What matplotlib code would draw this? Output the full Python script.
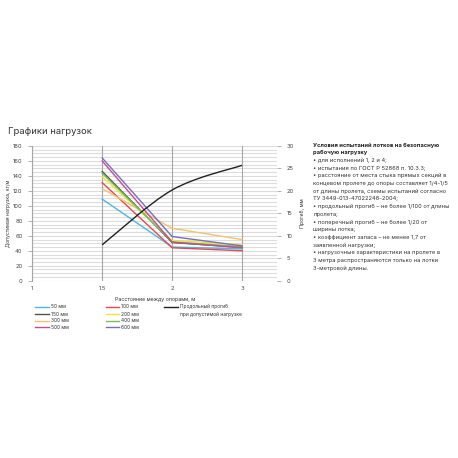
import matplotlib
matplotlib.use("Agg")
import matplotlib.pyplot as plt
from matplotlib.path import Path
from matplotlib.patches import PathPatch
from matplotlib.lines import Line2D
import numpy as np

plt.rcParams['font.family'] = ['Inter', 'DejaVu Sans']

# ---- data ----
spans = ["1", "1.5", "2", "3"]
x_idx = [1, 2, 3]          # category positions of 1.5, 2, 3
series_names = ["50 мм", "100 мм", "150 мм", "200 мм", "300 мм", "400 мм", "500 мм", "600 мм"]
load_50 = [109, 45, 42.5]
load_100 = [131, 44, 40]
load_150 = [146, 51, 44.5]
load_200 = [139, 54, 48]
load_300 = [123, 70, 55]
load_400 = [143.5, 52, 45.5]
load_500 = [160, 51.5, 44]
load_600 = [164, 59, 46.5]
deflection = [8, 20.2, 25.7]
series_colors = ["#4ab8ea", "#e5484d", "#4d5840", "#ede53a", "#f2c26e", "#78c05f", "#c04f8f", "#7a6cc0"]
loads = [load_50, load_100, load_150, load_200, load_300, load_400, load_500, load_600]

conditions_title = ["Условия испытаний лотков на безопасную", "рабочую нагрузку"]
conditions = [
    "• для исполнений 1, 2 и 4;",
    "• испытания по ГОСТ Р 52868 п. 10.3.3;",
    "• расстояние от места стыка прямых секций в",
    "концевом пролете до опоры составляет 1/4-1/5",
    "от длины пролета, схемы испытаний согласно",
    "ТУ 3449-013-47022248-2004;",
    "• продольный прогиб – не более 1/100 от длины",
    "пролета;",
    "• поперечный прогиб – не более 1/20 от",
    "ширины лотка;",
    "• коэффициент запаса – не менее 1,7 от",
    "заявленной нагрузки;",
    "• нагрузочные характеристики на пролете в",
    "3 метра распространяются только на лотки",
    "3-метровой длины.",
]

W = H = 458
fig = plt.figure(figsize=(4.58, 4.58), dpi=100)

def fx(px): return px / W
def fy(py): return 1 - py / H

ax = fig.add_axes([fx(32.3), fy(280.7), fx(277) - fx(32.3), fy(146) - fy(280.7)])
ax2 = ax.twinx()


def smooth_path(xs, ys):
    pts = np.column_stack([xs, ys]).astype(float)
    n = len(pts)
    verts = [pts[0]]
    codes = [Path.MOVETO]
    for i in range(n - 1):
        p0 = pts[i - 1] if i > 0 else pts[i]
        p1 = pts[i]
        p2 = pts[i + 1]
        p3 = pts[i + 2] if i + 2 < n else pts[i + 1]
        c1 = p1 + (p2 - p0) / 6.0
        c2 = p2 - (p3 - p1) / 6.0
        verts += [c1, c2, p2]
        codes += [Path.CURVE4] * 3
    return Path(verts, codes)


for vals, col in zip(loads, series_colors):
    ax.plot(x_idx, vals, color=col, lw=1.0, zorder=3)
ax2.add_patch(PathPatch(smooth_path(x_idx, deflection), facecolor="none", edgecolor="#222222", lw=1.0, zorder=4))

ax.set_xlim(0, 3.5)
ax.set_ylim(0, 180)
ax2.set_ylim(0, 30)
ax.set_xticks(range(len(spans)))
ax.set_xticklabels(spans)
ax.set_yticks(np.arange(0, 181, 20))
ax.set_yticks(np.arange(0, 181, 5), minor=True)
ax2.set_yticks(np.arange(0, 31, 5))

ax.grid(True, which="both", axis="y", color="#dcdcdc", lw=0.8)
ax.grid(True, which="major", axis="x", color="#a6a6a6", lw=0.8)
ax.set_axisbelow(True)
ax.yaxis.set_zorder(0.5)
ax.xaxis.set_zorder(0.6)

for a in (ax, ax2):
    for s in a.spines.values():
        s.set_visible(False)
ax.spines["left"].set_visible(True)
ax.spines["left"].set_color("#a6a6a6")
ax.spines["left"].set_linewidth(0.8)

ax.tick_params(axis="both", which="both", length=0, labelsize=4.2, colors="#444444", pad=4)
ax.tick_params(axis="y", which="major", length=3, color="#a6a6a6", width=0.6)
ax2.tick_params(axis="y", length=3, color="#a6a6a6", width=0.6, labelsize=4.2, colors="#444444", pad=4)

ax.set_ylabel("Допустимая нагрузка, кг/м", fontsize=3.6, color="#333333", labelpad=1)
ax2.set_ylabel("Прогиб, мм", fontsize=3.8, color="#333333", labelpad=4)
ax.set_xlabel("Расстояние между опорами, м", fontsize=3.8, color="#333333", labelpad=4)

# title
fig.text(fx(8), fy(131), "Графики нагрузок", fontsize=6.8, color="#333333", va="center", ha="left")

# legend (manual layout: 3 columns)
rows_y = [306.7, 314, 321, 327.3]
col_line = [(35, 49), (106, 119)]
col_text = [51, 121]
order = [[0, 2, 4, 6], [1, 3, 5, 7]]
for c in range(2):
    for r, si in enumerate(order[c]):
        fig.add_artist(Line2D([fx(col_line[c][0]), fx(col_line[c][1])], [fy(rows_y[r])] * 2,
                              color=series_colors[si], lw=1.0, transform=fig.transFigure))
        fig.text(fx(col_text[c]), fy(rows_y[r]), series_names[si], fontsize=3.5,
                 color="#333333", va="center", ha="left")
fig.add_artist(Line2D([fx(164), fx(178)], [fy(rows_y[0])] * 2, color="#222222", lw=1.0,
                      transform=fig.transFigure))
fig.text(fx(180), fy(rows_y[0]), "Продольный прогиб", fontsize=3.5, color="#333333", va="center", ha="left")
fig.text(fx(180), fy(rows_y[1]), "при допустимой нагрузке", fontsize=3.5, color="#333333", va="center", ha="left")

# right text block
y = 145
for t in conditions_title:
    fig.text(fx(313), fy(y), t, fontsize=4.15, fontweight="bold", color="#222222", va="center", ha="left")
    y += 7.7
for t in conditions:
    fig.text(fx(313), fy(y), t, fontsize=4.15, color="#333333", va="center", ha="left")
    y += 7.7

fig.savefig("out.png", dpi=100, facecolor="white")
